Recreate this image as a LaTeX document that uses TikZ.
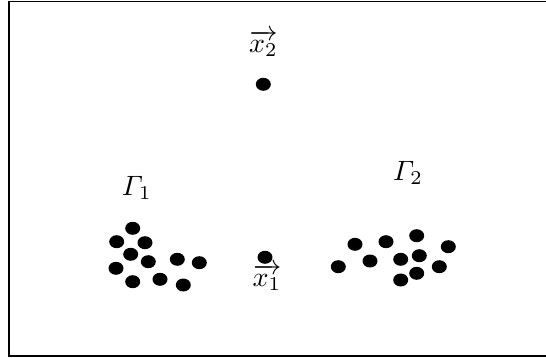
\documentclass[tikz,border=0pt]{standalone}
\usepackage{amsmath}
\usepackage{graphicx}
\usetikzlibrary{shapes.geometric}
\newcommand{\bigmath}[1]{\scalebox{2.8}{$#1$}}
\begin{document}
\begin{tikzpicture}[x=1pt,y=-1pt,
     dot/.style={ellipse,fill=black,inner sep=0pt,minimum width=15pt,
       minimum height=13pt},
     lab/.style={inner sep=0pt}]
    \useasboundingbox (0,0) rectangle (546,358);
    \draw[line width=1.4pt] (560,1.5) -- (9,1.5) -- (9,356) -- (560,356);
    % cluster Gamma 1
    \foreach \px/\py [count=\i] in {132.7/228.3,116.7/241.7,145/242.7,
        130.7/254.3,148.3/261.7,116/268.3,177.3/259.3,199.3/262.7,
        132.7/281.7,160/279.3,183.3/285}
      \node[dot] (ga-\i) at (\px,\py) {};
    % cluster Gamma 2
    \foreach \px/\py [count=\i] in {338.3/266.7,355/244.3,370/261,
        386/241.7,416.7/235.7,448.3/246.7,400.7/259.3,419.3/255.7,
        439.3/266.7,416.7/273.3,400.7/280}
      \node[dot] (gb-\i) at (\px,\py) {};
    \node[lab] (gam1) at (136.7,188) {\bigmath{\varGamma_1}};
    \node[lab] (gam2) at (408,173) {\bigmath{\varGamma_2}};
    % the two points
    \node[dot] (p2) at (263.3,84.3) {};
    \node[lab] (v2) at (263.3,43) {\bigmath{\overrightarrow{x_2}}};
    \node[dot] (p1) at (265,257.3) {};
    \node[lab] (v1) at (267,277) {\bigmath{\overrightarrow{x_1}}};
\end{tikzpicture}
\end{document}
